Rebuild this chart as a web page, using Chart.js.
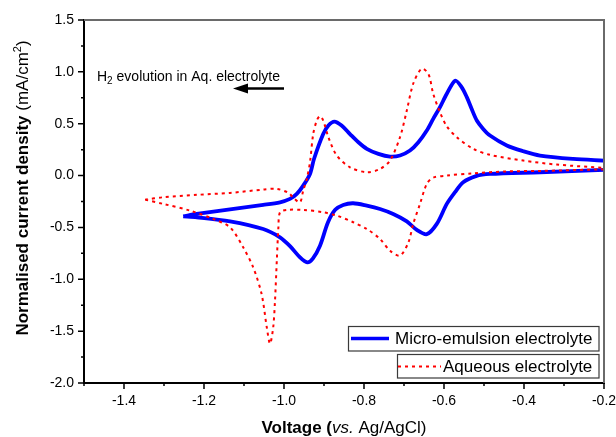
<!DOCTYPE html>
<html>
<head>
<meta charset="utf-8">
<script src="https://cdn.jsdelivr.net/npm/chart.js@4/dist/chart.umd.min.js"></script>
<style>
html,body{margin:0;padding:0;background:#fff;}
#wrap{width:616px;height:437px;}
</style>
</head>
<body>
<div id="wrap"><canvas id="c" width="616" height="437"></canvas></div>
<script>
// ---- Data ----
const blueUpperV = [-1.252,-1.218,-1.135,-1.052,-1.01,-0.985,-0.968,-0.952,-0.935,-0.925,-0.902,-0.889,-0.874,-0.856,-0.835,-0.814,-0.793,-0.764,-0.735,-0.71,-0.685,-0.664,-0.643,-0.627,-0.61,-0.593,-0.572,-0.556,-0.543,-0.531,-0.518,-0.502,-0.485,-0.443,-0.402,-0.36,-0.277,-0.2];
const blueUpperI = [-0.393,-0.37,-0.325,-0.283,-0.258,-0.225,-0.177,-0.097,0.016,0.16,0.40,0.483,0.521,0.483,0.40,0.321,0.258,0.209,0.183,0.193,0.241,0.321,0.434,0.547,0.66,0.789,0.915,0.853,0.756,0.644,0.531,0.45,0.386,0.29,0.235,0.193,0.161,0.145];
const blueLowerV = [-0.2,-0.36,-0.485,-0.52,-0.552,-0.5725,-0.593,-0.618,-0.643,-0.668,-0.693,-0.727,-0.76,-0.793,-0.827,-0.852,-0.872,-0.89,-0.91,-0.928,-0.942,-0.96,-0.985,-1.01,-1.052,-1.135,-1.218,-1.252];
const blueLowerI = [0.055,0.032,0.016,-0.005,-0.064,-0.16,-0.273,-0.466,-0.565,-0.524,-0.441,-0.37,-0.322,-0.29,-0.267,-0.283,-0.33,-0.45,-0.676,-0.8,-0.837,-0.789,-0.68,-0.595,-0.515,-0.441,-0.402,-0.393];
const redUpperV = [-1.3475,-1.302,-1.218,-1.135,-1.052,-1.018,-0.989,-0.975,-0.96,-0.952,-0.943,-0.935,-0.927,-0.918,-0.91,-0.902,-0.889,-0.868,-0.835,-0.793,-0.76,-0.735,-0.71,-0.693,-0.677,-0.656,-0.639,-0.627,-0.61,-0.593,-0.568,-0.527,-0.485,-0.402,-0.318,-0.2];
const redUpperI = [-0.232,-0.209,-0.186,-0.167,-0.135,-0.128,-0.167,-0.22,-0.258,-0.145,-0.032,0.13,0.40,0.531,0.573,0.531,0.37,0.193,0.08,0.032,0.064,0.145,0.37,0.627,0.885,1.03,0.98,0.789,0.61,0.475,0.37,0.258,0.2,0.145,0.106,0.074];
const redLowerV = [-0.2,-0.36,-0.443,-0.527,-0.593,-0.627,-0.643,-0.66,-0.677,-0.689,-0.71,-0.735,-0.76,-0.793,-0.827,-0.868,-0.902,-0.952,-0.993,-1.01,-1.014,-1.018,-1.0225,-1.027,-1.035,-1.043,-1.056,-1.077,-1.102,-1.135,-1.177,-1.235,-1.302,-1.3475];
const redLowerI = [0.06,0.045,0.04,0.022,0.0,-0.02,-0.08,-0.273,-0.466,-0.644,-0.772,-0.724,-0.611,-0.515,-0.45,-0.386,-0.354,-0.331,-0.331,-0.354,-0.499,-0.82,-1.207,-1.464,-1.62,-1.464,-1.142,-0.885,-0.692,-0.499,-0.418,-0.338,-0.273,-0.232];

const seriesNames = ['Micro-emulsion electrolyte', 'Aqueous electrolyte'];
const annotationText = ['H', '2', ' evolution in Aq. electrolyte'];
const xMin = -1.5, xMax = -0.2, yMin = -2.0, yMax = 1.5;

function toPts(v, i) { return v.map((x, k) => ({x: x, y: i[k]})); }
function joinBranches(a, b) { return a.concat([{x: b[0].x, y: null}], b); }

const blueData = joinBranches(toPts(blueUpperV, blueUpperI), toPts(blueLowerV, blueLowerI));
const redData = joinBranches(toPts(redUpperV, redUpperI), toPts(redLowerV, redLowerI));

const FONT = '"Liberation Sans", Arial, Helvetica, sans-serif';

function drawRich(ctx, segs, x, y, align) {
  let total = 0;
  segs.forEach(s => { ctx.font = s.font; s.w = ctx.measureText(s.t).width; total += s.w; });
  let cx = align === 'center' ? x - total / 2 : x;
  ctx.textBaseline = 'alphabetic';
  ctx.textAlign = 'left';
  segs.forEach(s => { ctx.font = s.font; ctx.fillText(s.t, cx, y + (s.dy || 0)); cx += s.w; });
}

const decor = {
  id: 'decor',
  afterDraw(chart) {
    const ctx = chart.ctx;
    const xs = chart.scales.x, ys = chart.scales.y;
    const L = xs.left, R = xs.right, T = ys.top, B = ys.bottom;
    ctx.save();
    // top/right frame
    ctx.strokeStyle = '#6a6a6a';
    ctx.lineWidth = 2;
    ctx.beginPath();
    ctx.moveTo(L, T); ctx.lineTo(R, T); ctx.lineTo(R, B);
    ctx.stroke();
    // ticks
    ctx.strokeStyle = '#000';
    ctx.lineWidth = 1.5;
    ctx.beginPath();
    for (let k = -15; k <= -2; k++) {
      const px = xs.getPixelForValue(k / 10);
      const len = (k % 2 === 0) ? 6 : 3;
      ctx.moveTo(px, B); ctx.lineTo(px, B + len);
    }
    for (let k = -8; k <= 6; k++) {
      const py = ys.getPixelForValue(k / 4);
      const len = (k % 2 === 0) ? 6 : 3;
      ctx.moveTo(L, py); ctx.lineTo(L - len, py);
    }
    ctx.stroke();

    ctx.fillStyle = '#000';
    // x title
    drawRich(ctx, [
      {t: 'Voltage (', font: 'bold 17px ' + FONT},
      {t: 'vs.', font: 'italic 17px ' + FONT},
      {t: ' Ag/AgCl)', font: '17px ' + FONT}
    ], (L + R) / 2, 433, 'center');
    // y title
    ctx.save();
    ctx.translate(28, 188);
    ctx.rotate(-Math.PI / 2);
    drawRich(ctx, [
      {t: 'Normalised current density ', font: 'bold 17px ' + FONT},
      {t: '(mA/cm', font: '17px ' + FONT},
      {t: '2', font: '11px ' + FONT, dy: -7},
      {t: ')', font: '17px ' + FONT}
    ], 0, 0, 'center');
    ctx.restore();

    // annotation
    drawRich(ctx, [
      {t: annotationText[0], font: '14px ' + FONT},
      {t: annotationText[1], font: '10px ' + FONT, dy: 3},
      {t: annotationText[2], font: '14px ' + FONT}
    ], 97, 81, 'left');
    // arrow
    ctx.strokeStyle = '#000';
    ctx.lineWidth = 2.5;
    ctx.beginPath();
    ctx.moveTo(284, 88.5); ctx.lineTo(244, 88.5);
    ctx.stroke();
    ctx.beginPath();
    ctx.moveTo(233, 88.5); ctx.lineTo(248, 83.5); ctx.lineTo(248, 93.5); ctx.closePath();
    ctx.fill();

    // legend boxes
    ctx.lineWidth = 1.2;
    ctx.strokeStyle = '#3a3a3a';
    ctx.fillStyle = '#fff';
    ctx.fillRect(348, 326, 251, 25);
    ctx.strokeRect(348.5, 326.5, 250.5, 24.5);
    ctx.fillRect(397, 354, 202, 24);
    ctx.strokeRect(397.5, 354.5, 201.5, 23.5);
    // samples
    ctx.strokeStyle = '#0000ff';
    ctx.lineWidth = 3.5;
    ctx.beginPath(); ctx.moveTo(351, 338.5); ctx.lineTo(389, 338.5); ctx.stroke();
    ctx.strokeStyle = '#ff0000';
    ctx.lineWidth = 2;
    ctx.setLineDash([3, 4]);
    ctx.beginPath(); ctx.moveTo(398, 366.5); ctx.lineTo(441, 366.5); ctx.stroke();
    ctx.setLineDash([]);
    ctx.fillStyle = '#000';
    ctx.font = '17px ' + FONT;
    ctx.textAlign = 'left';
    ctx.textBaseline = 'middle';
    ctx.fillText(seriesNames[0], 395, 339);
    ctx.fillText(seriesNames[1], 443, 367);
    ctx.restore();
  }
};

new Chart(document.getElementById('c'), {
  type: 'scatter',
  data: {
    datasets: [
      {label: seriesNames[1], data: redData, showLine: true, borderColor: '#ff0000', borderWidth: 2,
       borderDash: [3, 4], pointRadius: 0, tension: 0.3, spanGaps: false, fill: false},
      {label: seriesNames[0], data: blueData, showLine: true, borderColor: '#0000ff', borderWidth: 3.8,
       pointRadius: 0, tension: 0.3, spanGaps: false, fill: false}
    ]
  },
  options: {
    responsive: false,
    animation: false,
    devicePixelRatio: 1,
    layout: {padding: {top: 20, right: 0, left: 0, bottom: 0}},
    plugins: {legend: {display: false}, tooltip: {enabled: false}},
    scales: {
      x: {
        type: 'linear', position: 'bottom', min: xMin, max: xMax,
        grid: {display: false, drawTicks: false, tickLength: 0},
        border: {display: true, color: '#000', width: 2},
        ticks: {
          stepSize: 0.1, autoSkip: false, maxRotation: 0, padding: 10,
          color: '#000', font: {family: FONT, size: 14},
          callback: v => (Math.round(v * 10) % 2 === 0 ? (Math.round(v * 10) / 10).toFixed(1) : '')
        },
        afterFit: s => { s.height = 54; s.paddingRight = 12; }
      },
      y: {
        type: 'linear', position: 'left', min: yMin, max: yMax,
        grid: {display: false, drawTicks: false, tickLength: 0},
        border: {display: true, color: '#000', width: 2},
        ticks: {
          stepSize: 0.5, padding: 10, color: '#000', font: {family: FONT, size: 14},
          callback: v => (Math.round(v * 10) / 10).toFixed(1)
        },
        afterFit: s => { s.width = 84; }
      }
    }
  },
  plugins: [decor]
});
</script>
</body>
</html>
